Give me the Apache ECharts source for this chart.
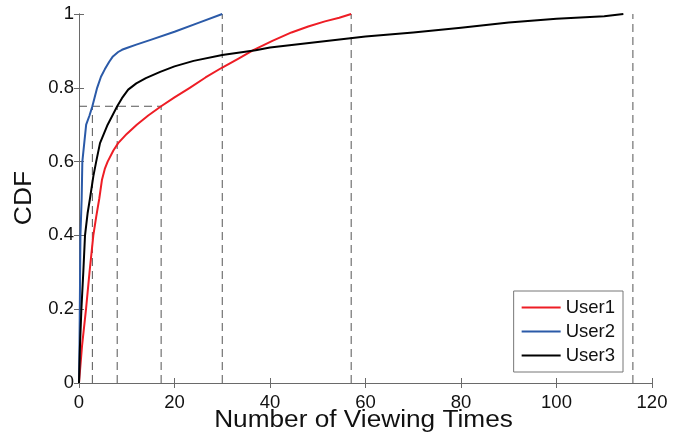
<!DOCTYPE html>
<html>
<head>
<meta charset="utf-8">
<script src="https://cdn.jsdelivr.net/npm/echarts@6/dist/echarts.min.js"></script>
<style>
  html, body { margin: 0; padding: 0; background: #fff; }
  #chart { width: 682px; height: 436px; }
</style>
</head>
<body>
<div id="chart"></div>
<script>
// CDF curves of viewing counts per user
const user1X = [0, 0.63, 1.47, 2.2, 3.0, 3.6, 4.25, 4.8, 5.4, 6.0, 7.2, 8.2, 10.0, 12.1, 14.5, 17.2, 20, 23.2, 26.5, 30, 33.5, 36.5, 40.5, 44.5, 48, 51.5, 54.5, 57];
const user1Y = [0, 0.1, 0.2, 0.3, 0.4, 0.45, 0.5, 0.55, 0.58, 0.6, 0.63, 0.65, 0.675, 0.7, 0.725, 0.75, 0.774, 0.8, 0.828, 0.855, 0.88, 0.902, 0.927, 0.95, 0.966, 0.98, 0.99, 1];

const user2X = [0, 0.1, 0.3, 0.56, 0.7, 1.5, 2.2, 2.8, 3.8, 4.6, 5.4, 6.3, 7.1, 8.2, 9, 10, 12, 15, 20, 25, 30];
const user2Y = [0, 0.1, 0.4, 0.5, 0.6, 0.7, 0.725, 0.75, 0.8, 0.83, 0.85, 0.87, 0.885, 0.897, 0.903, 0.908, 0.917, 0.93, 0.952, 0.976, 1];

const user3X = [0, 0.2, 0.5, 0.9, 1.26, 1.8, 2.3, 3.0, 3.6, 4.4, 6.0, 8.0, 9.0, 10.3, 12, 14, 17, 20, 24, 30, 37, 40, 50, 60, 70, 80, 90, 100, 110, 114];
const user3Y = [0, 0.1, 0.2, 0.3, 0.4, 0.46, 0.5, 0.56, 0.6, 0.65, 0.7, 0.75, 0.772, 0.795, 0.812, 0.826, 0.843, 0.858, 0.873, 0.889, 0.902, 0.909, 0.924, 0.939, 0.95, 0.963, 0.977, 0.987, 0.994, 1];

// reference guides: vertical drop lines (x, top) and the 0.75 level
const guideX = [2.8, 8, 17.2, 30, 57, 116];
const guideTop = [0.75, 0.75, 0.75, 1, 1, 1];
const levelY = 0.75;
const levelEndX = 17.2;

const seriesNames = ['User1', 'User2', 'User3'];
const seriesColors = ['#ee1d25', '#2b5aa8', '#000000'];

const xTitle = 'Number of Viewing Times';
const yTitle = 'CDF';

const zip = (xs, ys) => xs.map((x, i) => [x, ys[i]]);

const font = 'Liberation Sans, Arial, sans-serif';
const axisColor = '#6a6a6a';
const textColor = '#111';

const dash = { color: '#555', width: 1, type: [8, 5] };

const guideSeries = guideX.map((x, i) => ({
  type: 'line',
  data: [[x, 0], [x, guideTop[i]]],
  symbol: 'none',
  silent: true,
  lineStyle: dash,
  z: 1
}));
guideSeries.push({
  type: 'line',
  data: [[0, levelY], [levelEndX, levelY]],
  symbol: 'none',
  silent: true,
  lineStyle: dash,
  z: 1
});

const curves = [zip(user1X, user1Y), zip(user2X, user2Y), zip(user3X, user3Y)].map((d, i) => ({
  name: seriesNames[i],
  type: 'line',
  data: d,
  symbol: 'none',
  lineStyle: { color: seriesColors[i], width: 2, join: 'round' },
  itemStyle: { color: seriesColors[i] },
  z: 3
}));

const frameAxis = {
  axisLine: { show: true, lineStyle: { color: axisColor, width: 1 } },
  axisTick: { show: true, inside: true, length: 5, lineStyle: { color: axisColor } },
  splitLine: { show: false }
};

const chart = echarts.init(document.getElementById('chart'));
chart.setOption({
  animation: false,
  backgroundColor: '#fff',
  grid: { left: 79, right: 30, top: 14, bottom: 53, show: false },
  legend: {
    data: seriesNames,
    orient: 'vertical',
    right: 59,
    bottom: 64,
    itemWidth: 39,
    itemHeight: 2,
    itemGap: 5,
    icon: 'rect',
    padding: [7, 8, 7, 8],
    borderColor: '#777',
    borderWidth: 1,
    backgroundColor: '#fff',
    textStyle: { fontFamily: font, fontSize: 18.5, color: textColor }
  },
  xAxis: [Object.assign({
    type: 'value', min: 0, max: 120, interval: 20,
    axisLabel: { fontFamily: font, fontSize: 18.5, color: textColor, margin: 10 }
  }, frameAxis), Object.assign({
    type: 'value', min: 0, max: 120, interval: 20, position: 'top',
    axisLabel: { show: false }
  }, frameAxis)],
  yAxis: [Object.assign({
    type: 'value', min: 0, max: 1, interval: 0.2,
    axisLabel: { fontFamily: font, fontSize: 18.5, color: textColor, margin: 5 }
  }, frameAxis), Object.assign({
    type: 'value', min: 0, max: 1, interval: 0.2, position: 'right',
    axisLabel: { show: false }
  }, frameAxis)],
  graphic: [{
    type: 'text',
    x: 363.5, y: 421,
    scaleX: 1.14,
    style: { text: xTitle, font: '23px ' + font, fill: textColor, textAlign: 'center', textVerticalAlign: 'middle' }
  }, {
    type: 'text',
    x: 25, y: 198,
    rotation: Math.PI / 2,
    scaleX: 1.15,
    style: { text: yTitle, font: '23px ' + font, fill: textColor, textAlign: 'center', textVerticalAlign: 'middle' }
  }],
  series: guideSeries.concat(curves)
});
</script>
</body>
</html>
